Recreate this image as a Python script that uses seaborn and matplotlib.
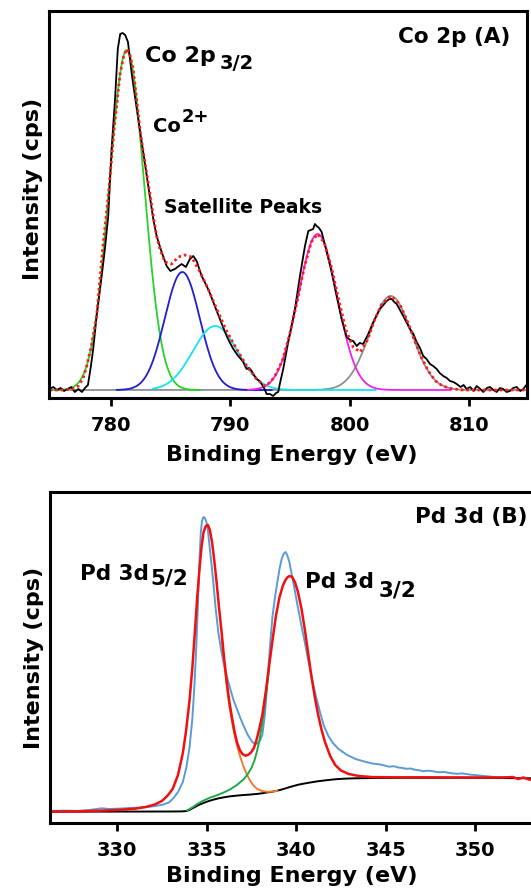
import numpy as np
import pandas as pd
import matplotlib
matplotlib.use("Agg")
import matplotlib.pyplot as plt
import seaborn as sns

# ---------------- Panel A: Co 2p ----------------
co_energy = [774.9, 775.2, 775.5, 775.8, 776.1, 776.4, 776.7, 777.0, 777.3, 777.6, 777.85,
             778.1, 778.35, 778.54, 778.83, 779.25, 779.52, 779.8, 779.94, 780.08, 780.37,
             780.6, 780.8, 781.0, 781.22, 781.45, 781.79, 782.07, 782.31, 782.58, 782.73,
             783.15, 783.57, 783.85, 784.27, 784.69, 785.0, 785.38, 785.94, 786.3, 786.64,
             786.92, 787.2, 787.62, 788.04, 788.3, 788.59, 788.85, 789.15, 789.45, 789.71,
             790.0, 790.27, 790.5, 790.68, 790.9, 791.1, 791.25, 791.39, 791.6, 791.81,
             792.0, 792.22, 792.45, 792.64, 792.85, 793.06, 793.34, 793.61, 793.85, 794.03,
             794.2, 794.45, 794.87, 795.43, 795.85, 796.27, 796.55, 796.96, 797.1, 797.25,
             797.45, 797.67, 798.09, 798.5, 798.92, 799.34, 799.76, 800.05, 800.31, 800.6,
             800.85, 801.15, 801.57, 801.99, 802.55, 803.11, 803.35, 803.53, 803.75, 803.95,
             804.5, 805.06, 805.35, 805.62, 805.9, 806.17, 806.45, 806.74, 807.0, 807.3,
             807.55, 807.85, 808.15, 808.41, 808.7, 808.97, 809.3, 809.55, 809.81, 810.1,
             810.4, 810.65, 810.95, 811.2, 811.5, 811.76, 812.05, 812.32, 812.6, 812.87,
             813.15, 813.43, 813.7, 814.0, 814.3, 814.55, 814.8]
co_counts = [1, 3, 0, 2, -1, 1, 3, -2, 1, -2, 2,
             5, 24, 41, 74, 114, 141, 174, 208, 241, 291,
             341, 356, 357, 355, 348, 314, 291, 271, 250, 238,
             204, 171, 154, 138, 124, 119, 121, 126, 123, 131,
             134, 129, 114, 104, 97, 88, 80, 71, 62, 54,
             47, 41, 37, 34, 31, 28, 24, 21, 22, 19,
             15, 11, 9, 6, 2, -4, -4, -6, -3, -2,
             8, 21, 48, 81, 114, 144, 159, 161, 166, 164,
             162, 158, 138, 118, 94, 71, 53, 50, 49, 44,
             47, 46, 56, 68, 81, 89, 91, 91, 88, 86,
             74, 61, 56, 48, 42, 34, 31, 26, 24, 21,
             17, 14, 12, 9, 8, 6, 3, 5, 1, 3,
             -1, 4, 1, -2, 2, 3, 0, -2, 2, 1,
             -2, -1, 2, 3, -1, 1, 5]

co_fit_energy = [774.9, 776.0, 776.8, 777.3, 777.7, 778.0, 778.4, 778.83, 779.33, 779.8,
                 780.3, 780.8, 781.1, 781.35, 781.6, 781.9, 782.5, 782.9, 783.23, 783.57,
                 783.85, 784.13, 784.55, 785.11, 785.66, 786.22, 786.78, 787.48, 788.17,
                 788.88, 789.71, 790.55, 791.39, 792.22, 792.9, 793.4, 793.8, 794.4, 795.0,
                 795.6, 796.2, 796.8, 797.33, 797.9, 798.5, 799.1, 799.7, 800.3, 800.9,
                 801.5, 802.1, 802.7, 803.45, 804.2, 804.8, 805.4, 806.0, 806.6, 807.2,
                 807.8, 808.5, 809.5, 814.9]
co_fit_counts = [0, 0, 1, 4, 12, 24, 45, 74, 141, 193,
                 262, 317, 334, 341, 336, 320, 256, 225, 201, 174,
                 154, 141, 128, 126, 133, 135, 133, 118, 101,
                 81, 59, 41, 24, 11, 4, 8, 15, 30, 56,
                 88, 122, 148, 156, 147, 122, 90, 60, 43, 38,
                 50, 70, 86, 94, 86, 70, 51, 33, 19, 9,
                 4, 1.5, 0, 0]

# Gaussian components of the fit: centre (eV), height, sigma (eV), drawn range
co_peak_centres = [781.35, 786.0, 788.75, 797.33, 803.45]
co_peak_heights = [340, 118, 64, 156, 94]
co_peak_sigmas = [1.46, 1.47, 1.87, 1.62, 1.75]
co_peak_lo = [774.9, 780.5, 783.5, 791.5, 774.9]
co_peak_hi = [787.5, 793.5, 802.2, 808.5, 814.9]
co_peak_colors = ["#25d425", "#1f1fcf", "#16e3ef", "#ee22ee", "#8f8f8f"]
co_peak_order = [4, 0, 1, 2, 3]

co_ticks = [780, 790, 800, 810]

# ---------------- Panel B: Pd 3d ----------------
pd_energy = [326.25, 327.0, 327.8, 328.5, 329.13, 329.6, 330.0, 330.5, 330.8, 331.2,
             331.5, 331.9, 332.2, 332.6, 332.91, 333.15, 333.4, 333.67, 333.86, 334.04,
             334.2, 334.33, 334.43, 334.52, 334.6, 334.67, 334.74, 334.82, 334.9, 334.99,
             335.08, 335.18, 335.28, 335.37, 335.5, 335.65, 335.8, 335.94, 336.12, 336.32,
             336.5, 336.69, 336.88, 337.07, 337.3, 337.55, 337.7, 337.83, 337.97, 338.11,
             338.25, 338.39, 338.53, 338.68, 338.82, 338.96, 339.08, 339.19, 339.3, 339.4,
             339.5, 339.62, 339.76, 339.91, 340.05, 340.19, 340.33, 340.48, 340.66, 340.85,
             341.1, 341.33, 341.55, 341.8, 342.05, 342.37, 342.85, 343.32, 343.8, 344.26,
             344.7, 345.0, 345.2, 345.45, 345.7, 345.95, 346.15, 346.4, 346.6, 346.85,
             347.1, 347.35, 347.6, 347.85, 348.04, 348.3, 348.5, 348.75, 349.0, 349.25,
             349.5, 349.75, 349.94, 350.2, 350.4, 350.65, 350.88, 351.1, 351.3, 351.64]
pd_counts = [12, 12.4, 12.1, 13.1, 14.7, 14.0, 14.3, 14.8, 15.1, 15.4,
             15.8, 16.4, 17.2, 18.6, 20.7, 25, 31, 41, 55, 75,
             104, 141, 180, 222, 262, 290, 302, 306, 305, 301,
             291, 274, 257, 241, 215, 191, 174, 161, 147, 134,
             123, 114, 105, 97, 88, 81, 79, 79.5, 82, 88,
             108, 141, 175, 207, 226, 242, 255, 264, 269, 271,
             268, 261, 248, 234, 220, 207, 194, 181, 164, 147,
             127, 111, 97, 87, 80, 74, 68, 64, 61.5, 59.5,
             58.5, 57.2, 56.3, 56.8, 55.5, 55, 54.2, 54.5, 53.4, 52.8,
             51.7, 52.3, 51.9, 51, 50.8, 51, 50.3, 49.6, 49.2, 49.6,
             49.0, 48.3, 48, 47.6, 47.1, 46.8, 46.3, 46.0, 45.8, 45.6]

pd_fit_energy = [326.25, 327.5, 329.0, 330.3, 331.0, 331.6, 332.1, 332.5, 332.8, 333.1,
                 333.4, 333.67, 333.85, 334.04, 334.2, 334.33, 334.47, 334.61, 334.72, 334.83,
                 334.95, 335.07, 335.18, 335.3, 335.43, 335.56, 335.7, 335.84, 335.98, 336.13,
                 336.27, 336.41, 336.55, 336.69, 336.85, 337.0, 337.17, 337.35, 337.5, 337.64,
                 337.8, 337.95, 338.11, 338.3, 338.49, 338.68, 338.87, 339.06, 339.25, 339.4,
                 339.53, 339.65, 339.78, 339.95, 340.1, 340.3, 340.48, 340.66, 340.85, 341.04,
                 341.23, 341.42, 341.61, 341.9, 342.18, 342.5, 342.94, 343.5, 344.26, 345.5,
                 347.0, 348.5, 350.0, 351.5, 352.1, 352.4, 352.7, 353.0, 353.4, 353.9]
pd_fit_counts = [11.3, 11.5, 12.3, 13.3, 14.3, 16, 18.5, 22, 27, 34,
                 48, 70, 92, 122, 155, 188, 225, 256, 277, 291,
                 297, 298, 293, 281, 262, 240, 214, 190, 164, 140,
                 121, 106, 92, 81, 73, 69, 67.3, 68.5, 71, 75,
                 84, 95, 108, 131, 157, 183, 207, 225, 237, 243,
                 246, 247, 246, 240, 231, 214, 194, 171, 147, 126,
                 108, 93, 81, 67, 58, 52.5, 49, 47, 45.9, 45.7,
                 45.7, 45.6, 45.5, 45.5, 46, 44, 45.5, 43.5, 43, 42.5]

pd52_energy = [335.84, 335.98, 336.13, 336.27, 336.41, 336.55, 336.69, 336.88, 337.07, 337.26,
               337.45, 337.64, 337.83, 338.1, 338.39, 338.7, 338.96]
pd52_counts = [186, 160, 136, 117, 102, 89, 78, 66, 56, 48,
               41.5, 37, 34, 32, 31.2, 31.4, 32.3]

pd32_energy = [333.9, 334.05, 334.23, 334.5, 334.8, 335.18, 335.56, 335.94, 336.32, 336.69,
               337.07, 337.3, 337.5, 337.67, 337.83, 337.95, 338.08, 338.2, 338.35, 338.49]
pd32_counts = [12.5, 14, 15.9, 19.3, 22.2, 25.3, 27.6, 30.4, 33.7, 38,
               43.8, 49, 55, 62.5, 73, 83, 97, 112, 133, 155]

pd_bg_energy = [326.25, 330.0, 333.0, 333.6, 333.85, 334.0, 334.15, 334.3, 334.42, 334.6,
                334.8, 335.0, 335.18, 335.45, 335.7, 336.0, 336.32, 336.7, 337.0, 337.4,
                337.83, 338.1, 338.4, 338.7, 338.96, 339.2, 339.4, 339.65, 339.91, 340.15,
                340.4, 340.85, 341.2, 341.6, 342.0, 342.37, 342.8, 343.3, 344.26, 346.0,
                350.0, 353.9]
pd_bg_counts = [11.3, 11.4, 11.5, 11.6, 11.9, 12.8, 14.2, 15.6, 16.7, 18.4,
                19.9, 21.2, 22.3, 23.7, 24.8, 25.8, 26.7, 27.4, 27.9, 28.4,
                29.1, 29.7, 30.6, 31.4, 32.4, 33.5, 34.6, 36.0, 37.3, 38.4,
                39.3, 40.7, 41.7, 42.6, 43.4, 44.0, 44.4, 44.7, 45.0, 45.2,
                45.2, 44.6]

pd_ticks = [330, 335, 340, 345, 350]

# ---------------- styling ----------------
sns.set_theme(style="white")
plt.rcParams["font.family"] = ["DejaVu Sans"]
plt.rcParams["font.weight"] = "bold"
plt.rcParams["axes.labelweight"] = "bold"
plt.rcParams["text.color"] = "black"
plt.rcParams["axes.labelcolor"] = "black"
plt.rcParams["xtick.color"] = "black"
plt.rcParams["xtick.labelcolor"] = "black"

fig = plt.figure(figsize=(5.31, 8.95), dpi=100)
fig.patch.set_facecolor("white")

ax_a = fig.add_axes([49 / 531, 496 / 895, 478 / 531, 387 / 895])
ax_b = fig.add_axes([50 / 531, 71 / 895, 495 / 531, 331 / 895])


def style_axes(ax, ticks):
    for side in ["left", "right", "top", "bottom"]:
        ax.spines[side].set_visible(True)
        ax.spines[side].set_color("black")
        ax.spines[side].set_linewidth(2.2)
    ax.set_xticks(ticks)
    ax.set_xticklabels([str(t) for t in ticks], fontweight="bold", fontsize=14, color="black")
    ax.set_yticks([])
    ax.tick_params(axis="x", direction="out", length=6, width=2, color="black",
                   labelcolor="black", labelsize=14, pad=6, bottom=True)
    ax.set_facecolor("white")
    ax.grid(False)


# Panel A curves
for i in co_peak_order:
    e = np.linspace(co_peak_lo[i], co_peak_hi[i], 400)
    g = co_peak_heights[i] * np.exp(-0.5 * ((e - co_peak_centres[i]) / co_peak_sigmas[i]) ** 2)
    sns.lineplot(x=e, y=g, ax=ax_a, color=co_peak_colors[i], lw=1.3, sort=False, estimator=None)

sns.lineplot(x=co_energy, y=co_counts, ax=ax_a, color="black", lw=1.3, sort=False, estimator=None)
sns.lineplot(x=co_fit_energy, y=co_fit_counts, ax=ax_a, color="#ff1a1a", lw=2.0,
             linestyle=(0, (0.9, 1.1)), sort=False, estimator=None)

ax_a.set_xlim(774.84, 814.86)
ax_a.set_ylim(-8, 379)
style_axes(ax_a, co_ticks)
ax_a.set_xlabel("Binding Energy (eV)", fontsize=16, fontweight="bold", color="black")
ax_a.set_ylabel("Intensity (cps)", fontsize=16, fontweight="bold", color="black")
ax_a.xaxis.set_label_coords(0.508, -0.118)
ax_a.yaxis.set_label_coords(-0.013, 0.543)

txt = dict(fontweight="bold", color="black", va="baseline")
ax_a.text(813.44, 348, "Co 2p (A)", ha="right", fontsize=15.5, **txt)
ax_a.text(782.88, 329.3, "Co 2p", ha="left", fontsize=16, **txt)
ax_a.text(789.15, 321.7, "3/2", ha="left", fontsize=14, **txt)
ax_a.text(783.57, 259.3, "Co", ha="left", fontsize=14, **txt)
ax_a.text(785.95, 269.3, "2+", ha="left", fontsize=13, **txt)
ax_a.text(784.48, 178, "Satellite Peaks", ha="left", fontsize=13.5, **txt)

# Panel B curves
sns.lineplot(x=pd_energy, y=pd_counts, ax=ax_b, color="#5b9bd5", lw=1.4, sort=False, estimator=None)
sns.lineplot(x=pd_bg_energy, y=pd_bg_counts, ax=ax_b, color="black", lw=1.4, sort=False, estimator=None)
sns.lineplot(x=pd52_energy, y=pd52_counts, ax=ax_b, color="#ed7d31", lw=1.4, sort=False, estimator=None)
sns.lineplot(x=pd32_energy, y=pd32_counts, ax=ax_b, color="#1fa84a", lw=1.4, sort=False, estimator=None)
sns.lineplot(x=pd_fit_energy, y=pd_fit_counts, ax=ax_b, color="#f01010", lw=1.8, sort=False, estimator=None)

ax_b.set_xlim(326.25, 353.9)
ax_b.set_ylim(0, 331)
style_axes(ax_b, pd_ticks)
ax_b.set_xlabel("Binding Energy (eV)", fontsize=16, fontweight="bold", color="black")
ax_b.set_ylabel("Intensity (cps)", fontsize=16, fontweight="bold", color="black")
ax_b.xaxis.set_label_coords(0.489, -0.128)
ax_b.yaxis.set_label_coords(-0.013, 0.503)

ax_b.text(352.95, 301, "Pd 3d (B)", ha="right", fontsize=15.5, **txt)
ax_b.text(327.92, 244, "Pd 3d", ha="left", fontsize=15.5, **txt)
ax_b.text(331.83, 239, "5/2", ha="left", fontsize=15.5, **txt)
ax_b.text(340.49, 235.7, "Pd 3d", ha="left", fontsize=15.5, **txt)
ax_b.text(344.58, 227.3, "3/2", ha="left", fontsize=15.5, **txt)

fig.savefig("out.png", dpi=100, facecolor="white")
